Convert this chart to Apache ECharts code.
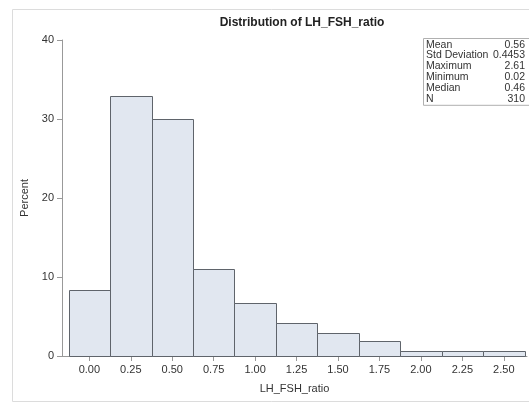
<!DOCTYPE html>
<html><head><meta charset="utf-8">
<script src="https://cdn.jsdelivr.net/npm/echarts@6/dist/echarts.min.js"></script>
<style>html,body{margin:0;padding:0;background:#fff}#c{width:529px;height:402px}</style>
</head><body><div id="c"></div>
<script>
// Histogram bins (midpoints) and percents
var binMids = [0.00, 0.25, 0.50, 0.75, 1.00, 1.25, 1.50, 1.75, 2.00, 2.25, 2.50];
var binWidth = 0.25;
var percents = [8.39, 32.90, 30.00, 10.97, 6.77, 4.19, 2.90, 1.94, 0.65, 0.65, 0.65];
var xTicks = [0.00, 0.25, 0.50, 0.75, 1.00, 1.25, 1.50, 1.75, 2.00, 2.25, 2.50];
var yTicks = [0, 10, 20, 30, 40];
var statLabels = ["Mean", "Std Deviation", "Maximum", "Minimum", "Median", "N"];
var statValues = ["0.56", "0.4453", "2.61", "0.02", "0.46", "310"];

var FONT = '"Liberation Sans", Arial, sans-serif';
var data = binMids.map(function(m, i){ return [m - binWidth/2, m + binWidth/2, percents[i]]; });

var chart = echarts.init(document.getElementById('c'), null, {renderer:'canvas'});

var statGraphics = [];
var boxX = 423, boxY = 38, boxW = 112, rowH = 10.8;
statGraphics.push({type:'rect', left:boxX, top:boxY, shape:{width:boxW, height:rowH*statLabels.length+2},
  style:{fill:'#fff', stroke:'#b0b0b0', lineWidth:1}, z:10});
statLabels.forEach(function(l, i){
  statGraphics.push({type:'text', x:boxX+3, y:boxY+1.2+i*rowH, z:11,
    style:{text:l, fill:'#333', fontSize:10.5, fontFamily:FONT, verticalAlign:'top'}});
  statGraphics.push({type:'text', x:525, y:boxY+1.2+i*rowH, z:11,
    style:{text:statValues[i], fill:'#333', fontSize:10.5, fontFamily:FONT, align:'right', verticalAlign:'top'}});
});

chart.setOption({
  animation:false,
  backgroundColor:'#fff',
  title:{text:'Distribution of LH_FSH_ratio', left:297, top:12, textAlign:'center',
    textStyle:{fontFamily:FONT, fontSize:12, fontWeight:'bold', color:'#222'}},
  graphic:[{type:'rect', left:10, top:7, shape:{width:530, height:392},
    style:{fill:null, stroke:'#dcdcdc', lineWidth:1}, z:-1}].concat(statGraphics),
  grid:{left:62, right:2, top:40, bottom:46},
  xAxis:{type:'value', min:-0.165, max:2.64,
    name:'LH_FSH_ratio', nameLocation:'middle', nameGap:27,
    nameTextStyle:{fontFamily:FONT, fontSize:11, color:'#333'},
    axisLine:{show:true, onZero:false, lineStyle:{color:'#999'}},
    axisTick:{show:true, length:5, lineStyle:{color:'#999'}, customValues:xTicks},
    axisLabel:{fontFamily:FONT, fontSize:11, color:'#333', margin:8, customValues:xTicks,
      formatter:function(v){return v.toFixed(2);}},
    splitLine:{show:false}},
  yAxis:{type:'value', min:0, max:40, interval:10,
    name:'Percent', nameLocation:'middle', nameGap:31, nameRotate:90,
    nameTextStyle:{fontFamily:FONT, fontSize:11, color:'#333'},
    axisLine:{show:true, onZero:false, lineStyle:{color:'#999'}},
    axisTick:{show:true, length:5, lineStyle:{color:'#999'}},
    axisLabel:{fontFamily:FONT, fontSize:11, color:'#333', margin:8},
    splitLine:{show:false}},
  series:[{type:'custom', data:data,
    encode:{x:[0,1], y:2},
    renderItem:function(params, api){
      var p0 = api.coord([api.value(0), 0]);
      var p1 = api.coord([api.value(1), api.value(2)]);
      return {type:'rect', shape:{x:Math.round(p0[0])+0.5, y:Math.round(p1[1])+0.5,
          width:Math.round(p1[0])-Math.round(p0[0]), height:Math.round(p0[1])-Math.round(p1[1])},
        style:{fill:'#e1e7f0', stroke:'#5f646b', lineWidth:1}};
    }}]
});
</script></body></html>
